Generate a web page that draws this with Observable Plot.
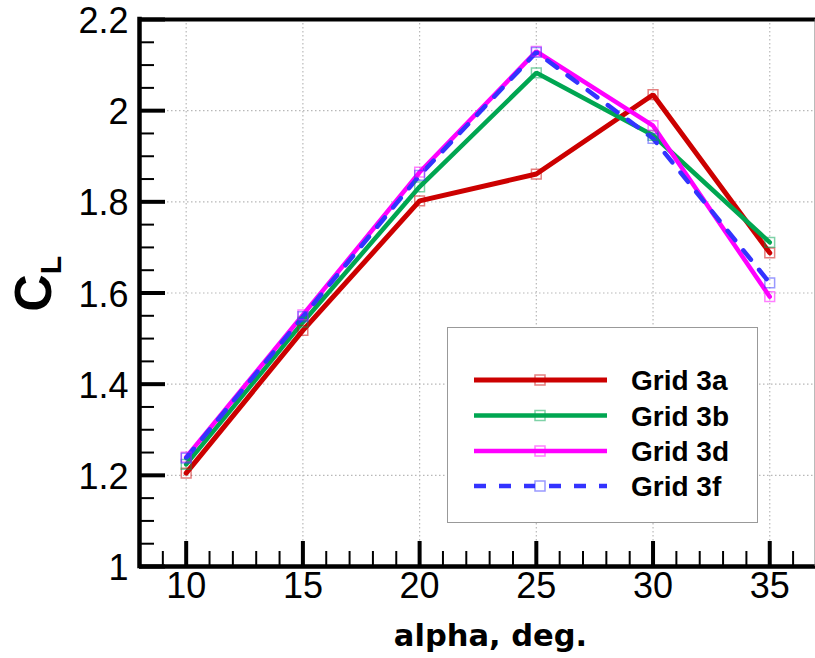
<!DOCTYPE html>
<html><head><meta charset="utf-8">
<script src="https://cdn.jsdelivr.net/npm/d3@7"></script>
<script src="https://cdn.jsdelivr.net/npm/@observablehq/plot@0.6"></script>
<style>
body{margin:0;background:#fff;overflow:hidden}
#wrap{position:relative;width:815px;height:658px}
#legend{position:absolute;left:447px;top:327px;width:309px;height:194px;border:1.5px solid #999;background:#fff}
</style></head><body><div id="wrap"><div id="legend"></div></div>
<script>
// ---- data ----
const alpha = [10, 15, 20, 25, 30, 35];
const seriesNames = ["Grid 3a", "Grid 3b", "Grid 3d", "Grid 3f"];
const grid3a = [1.205, 1.518, 1.802, 1.861, 2.035, 1.688];
const grid3b = [1.224, 1.536, 1.833, 2.083, 1.946, 1.711];
const grid3d = [1.240, 1.552, 1.865, 2.130, 1.967, 1.592];
const grid3f = [1.238, 1.548, 1.858, 2.128, 1.939, 1.622];
const seriesColors = ["#cc0000", "#00a651", "#ff00ff", "#3333ff"];
const seriesDash = [null, null, null, "12,13"];
const xMajor = [10, 15, 20, 25, 30, 35];
const xMinor = [9, 11, 12, 13, 14, 16, 17, 18, 19, 21, 22, 23, 24, 26, 27, 28, 29, 31, 32, 33, 34, 36];
const yMajor = [1, 1.2, 1.4, 1.6, 1.8, 2, 2.2];
const yMinor = [1.05, 1.1, 1.15, 1.25, 1.3, 1.35, 1.45, 1.5, 1.55, 1.65, 1.7, 1.75, 1.85, 1.9, 1.95, 2.05, 2.1, 2.15];
const xLabel = "alpha, deg.";
const yLabelMain = "C";
const yLabelSub = "L";

const values = [grid3a, grid3b, grid3d, grid3f];
const rows = seriesNames.flatMap((s, i) => alpha.map((a, j) => ({series: s, alpha: a, cl: values[i][j]})));

const xMin = 8, xMax = 36.96, yMin = 1, yMax = 2.2;

const lineMarks = seriesNames.map((s, i) => Plot.line(rows.filter(r => r.series === s), {
  x: "alpha", y: "cl", stroke: seriesColors[i], strokeWidth: i === 0 ? 5 : 4.5,
  strokeDasharray: seriesDash[i], strokeLinejoin: "miter"
}));

const chart = Plot.plot({
  width: 815, height: 658,
  marginLeft: 139, marginRight: 0, marginTop: 19, marginBottom: 92,
  style: {fontFamily: "'Liberation Sans', Arial, sans-serif", color: "#000", background: "#fff"},
  x: {domain: [xMin, xMax], label: null},
  y: {domain: [yMin, yMax], label: null},
  color: {domain: seriesNames, range: seriesColors},
  marks: [
    Plot.gridX(xMajor, {stroke: "#b8b8b8", strokeOpacity: 1, strokeWidth: 1.2, strokeDasharray: "1.5,2.5"}),
    Plot.gridY(yMajor.filter(v => v > yMin && v < yMax), {stroke: "#b8b8b8", strokeOpacity: 1, strokeWidth: 1.2, strokeDasharray: "1.5,2.5"}),
    ...lineMarks,
    Plot.dot(rows, {x: "alpha", y: "cl", symbol: "square", r: 5.5, stroke: "series", strokeOpacity: 0.5, strokeWidth: 1.5, fill: "none"}),
    // ticks (inward)
    Plot.axisX(xMajor, {tickSize: -25, strokeWidth: 4, tickFormat: () => ""}),
    Plot.axisX(xMinor, {tickSize: -15, strokeWidth: 2, tickFormat: () => ""}),
    Plot.axisY(yMajor, {tickSize: -26, strokeWidth: 4, tickFormat: () => ""}),
    Plot.axisY(yMinor, {tickSize: -15, strokeWidth: 2, tickFormat: () => ""}),
    // tick labels
    Plot.axisX(xMajor, {tickSize: 0, tickPadding: 6, fontSize: 36, label: null}),
    Plot.axisY(yMajor, {tickSize: 0, tickPadding: 11, dy: 2, fontSize: 36, label: null, tickFormat: d => String(d)}),
    // frame
    Plot.ruleY([yMin], {strokeWidth: 4.5}),
    Plot.ruleY([yMax], {strokeWidth: 4}),
    Plot.ruleX([xMin], {strokeWidth: 4.5, strokeLinecap: "square"}),
    Plot.ruleX([xMax], {stroke: "#777", strokeWidth: 2}),
    // axis titles
    Plot.text([xLabel], {frameAnchor: "bottom", textAnchor: "middle", lineAnchor: "bottom", dx: 13, dy: 79,
      fontSize: 30.5, fontWeight: "bold", fontFamily: "'DejaVu Sans', sans-serif"}),
    Plot.text([yLabelMain], {frameAnchor: "left", textAnchor: "middle", lineAnchor: "bottom", rotate: -90, dx: -89, dy: 0,
      fontSize: 52, fontWeight: "bold"}),
    Plot.text([yLabelSub], {frameAnchor: "left", textAnchor: "middle", lineAnchor: "bottom", rotate: -90, dx: -79, dy: -28,
      fontSize: 30, fontWeight: "bold"})
  ]
});
document.getElementById("wrap").prepend(chart);

// ---- legend ----
const lg = d3.select("#legend").append("svg").attr("width", 309).attr("height", 194)
  .style("font-family", "'Liberation Sans', Arial, sans-serif");
const rowY = [52, 87.5, 123, 158];
seriesNames.forEach((s, i) => {
  const g = lg.append("g").attr("transform", `translate(0,${rowY[i]})`);
  g.append("line").attr("x1", 26).attr("x2", 159).attr("y1", 0).attr("y2", 0)
    .attr("stroke", seriesColors[i]).attr("stroke-width", i === 0 ? 5 : 4.5)
    .attr("stroke-dasharray", seriesDash[i]);
  g.append("rect").attr("x", 87).attr("y", -5).attr("width", 10).attr("height", 10)
    .attr("fill", i === 3 ? "#fff" : "none").attr("stroke", seriesColors[i]).attr("stroke-opacity", 0.5).attr("stroke-width", 1.5);
  g.append("text").attr("x", 183).attr("y", 10).attr("font-size", 28).attr("font-weight", "bold").text(s);
});
</script>
</body></html>
